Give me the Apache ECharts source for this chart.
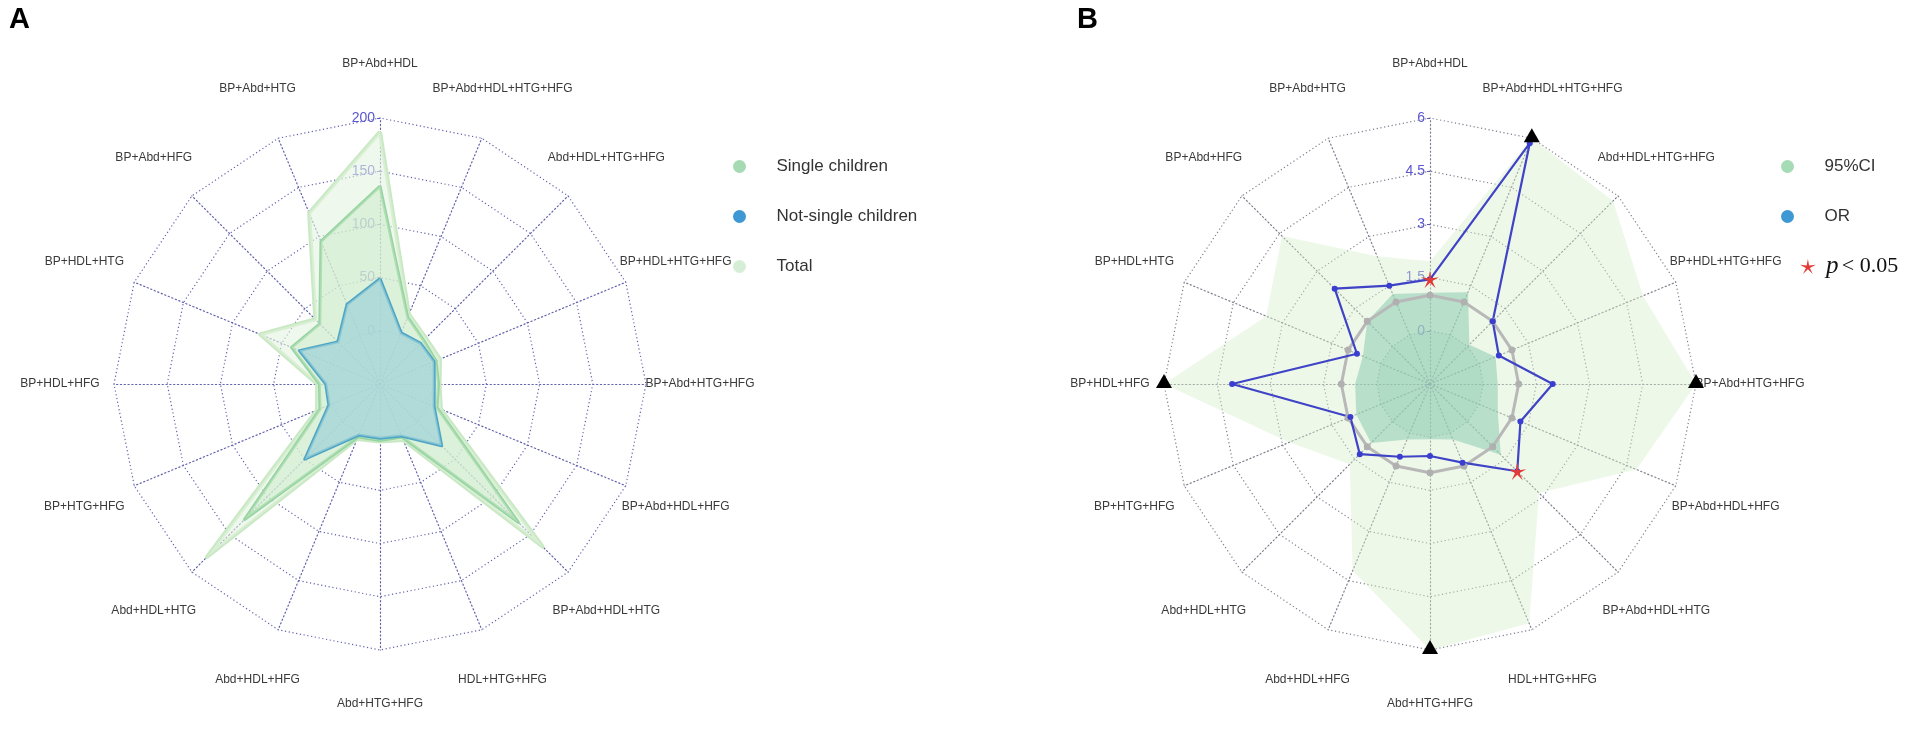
<!DOCTYPE html>
<html>
<head>
<meta charset="utf-8">
<script src="https://cdn.jsdelivr.net/npm/echarts@6/dist/echarts.min.js"></script>
<style>
html,body{margin:0;padding:0;background:#fff;}
#c{width:1928px;height:731px;}
</style>
</head>
<body>
<div id="c"></div>
<script>
// ---------- data ----------
const categories = ['BP+Abd+HDL','BP+Abd+HTG','BP+Abd+HFG','BP+HDL+HTG','BP+HDL+HFG','BP+HTG+HFG',
  'Abd+HDL+HTG','Abd+HDL+HFG','Abd+HTG+HFG','HDL+HTG+HFG','BP+Abd+HDL+HTG','BP+Abd+HDL+HFG',
  'BP+Abd+HTG+HFG','BP+HDL+HTG+HFG','Abd+HDL+HTG+HFG','BP+Abd+HDL+HTG+HFG'];
// Panel A: counts
const singleChildren    = [136, 95, 30, 40, 7, 11, 130, 4, 3, 4, 134, 8, 5, 7, 8, 18];
const notSingleChildren = [ 49, 31,  6, 32, 1,  2,  50, 2, 1, 3,  32, 5, 1, 5, 4,  2];
const totalChildren     = [187,124, 36, 72, 9, 14, 180, 6, 4, 7, 166,12, 6,11,11, 21];
const rangeA = [-50, 200];
// Panel B: odds ratios
const orValues  = [1.45, 1.5, 2.3, 0.73, 4.08, 0.93, 1.3, 0.72, 0.53, 0.9, 1.98, 1.26, 1.96, 0.6, 1.0, 5.85];
const ciLower   = [1.07, 1.25, 1.0, 0.55, 0.61, 0.75, 0.85, 0.19, 0.06, 0.19, 1.32, 0.57, 0.41, 0.5, 0.07, 1.3];
const ciUpper   = [1.96, 2.4, 4.4, 3.5, 6, 2.8, 1.7, 4.2, 6, 5.8, 2.85, 4.8, 6, 5.0, 5.8, 6];
const orReference = [1,1,1,1,1,1,1,1,1,1,1,1,1,1,1,1];
const rangeB = [-1.5, 6];
const significantIdx = [0, 10];      // p < 0.05
const truncatedIdx = [4, 8, 12, 15]; // upper CI beyond axis max

// ---------- styles ----------
const gridA = '#6262ad';
const gridB = '#7f7f8f';
const tickColor = '#5a56cf';
const starPath = 'path://M0,-1L0.147,-0.202L0.951,-0.309L0.238,0.077L0.588,0.809L0,0.25L-0.588,0.809L-0.238,0.077L-0.951,-0.309L-0.147,-0.202Z';
const labelFmt = v => (v < 0 ? '' : String(v));

function makeIndicators(range) {
  return categories.map((name, i) => {
    const o = { name: name, min: range[0], max: range[1] };
    if (i === 0) {
      o.axisLabel = { show: true };
      o.axisTick = { show: true };
    }
    return o;
  });
}
function radarBase(cx, grid, range, centerFill) {
  const dot = { color: grid, type: [1.2, 2.6], width: 1.2 };
  return {
    center: [cx, 384],
    radius: 266,
    startAngle: 90,
    splitNumber: 5,
    shape: 'polygon',
    indicator: makeIndicators(range),
    nameGap: 54,
    axisName: { color: '#3a3a3a', fontSize: 12, fontFamily: 'Liberation Sans', align: 'center', verticalAlign: 'middle' },
    axisLine: { lineStyle: dot },
    splitLine: { lineStyle: dot },
    splitArea: { show: true, areaStyle: { color: [centerFill, 'rgba(0,0,0,0)', 'rgba(0,0,0,0)', 'rgba(0,0,0,0)', 'rgba(0,0,0,0)'] } },
    axisTick: { show: false, length: 3, lineStyle: { color: tickColor, width: 1 } },
    axisLabel: { show: false, color: tickColor, fontSize: 14, fontFamily: 'Liberation Sans', formatter: labelFmt, margin: 5 }
  };
}

const chart = echarts.init(document.getElementById('c'));
const legendText = { fontSize: 17, color: '#333', fontFamily: 'Liberation Sans' };

chart.setOption({
  animation: false,
  backgroundColor: '#fff',
  title: [
    { text: 'A', left: 9, top: 5, padding: 0, textStyle: { fontSize: 29, fontWeight: 'bold', color: '#000', fontFamily: 'Liberation Sans' } },
    { text: 'B', left: 1077, top: 5, padding: 0, textStyle: { fontSize: 29, fontWeight: 'bold', color: '#000', fontFamily: 'Liberation Sans' } }
  ],
  legend: [
    { orient: 'vertical', left: 733, top: 158, itemWidth: 64, itemHeight: 13, itemGap: 33, icon: 'circle', selectedMode: false, padding: 0,
      textStyle: legendText,
      data: [
        { name: 'Single children', itemStyle: { color: '#a5dab4' } },
        { name: 'Not-single children', itemStyle: { color: '#3d98d3' } },
        { name: 'Total', itemStyle: { color: '#d6eed6' } }
      ] },
    { orient: 'vertical', left: 1781, top: 158, itemWidth: 64, itemHeight: 13, itemGap: 33, icon: 'circle', selectedMode: false, padding: 0,
      textStyle: legendText,
      data: [
        { name: '95%CI', itemStyle: { color: '#a5dbb5' } },
        { name: 'OR', itemStyle: { color: '#3d98d3' } }
      ] },
    { orient: 'vertical', left: 1800, top: 254, itemWidth: 26, itemHeight: 15, icon: starPath, selectedMode: false, padding: 0,
      data: [{ name: 'p < 0.05', itemStyle: { color: '#e53935', opacity: 1 } }],
      formatter: () => '{i|p} {n|< 0.05}',
      textStyle: { color: '#111', rich: {
        i: { fontFamily: 'Liberation Serif', fontStyle: 'italic', fontSize: 25, color: '#111' },
        n: { fontFamily: 'Liberation Serif', fontSize: 22, color: '#111' }
      } } }
  ],
  radar: [ radarBase(380, gridA, rangeA, 'rgba(0,0,0,0)'), radarBase(1430, gridB, rangeB, 'rgba(110,185,165,0.22)') ],
  polar: [{ center: [1430, 384], radius: 266 }],
  angleAxis: [{ polarIndex: 0, type: 'value', min: 0, max: categories.length, startAngle: 90, clockwise: false, show: false,
    axisLine: { show: false }, splitLine: { show: false }, axisLabel: { show: false }, axisTick: { show: false } }],
  radiusAxis: [{ polarIndex: 0, type: 'value', min: rangeB[0], max: rangeB[1], show: false,
    axisLine: { show: false }, splitLine: { show: false }, axisLabel: { show: false }, axisTick: { show: false } }],
  series: [
    { type: 'radar', radarIndex: 0, symbol: 'none', silent: true,
      data: [
        { name: 'Total', value: totalChildren, itemStyle: { color: '#d6eed6' },
          lineStyle: { color: '#c9e9c4', width: 4 }, areaStyle: { color: '#e4f4df', opacity: 0.6 } },
        { name: 'Single children', value: singleChildren, itemStyle: { color: '#a5dab4' },
          lineStyle: { color: '#97d4a3', width: 3 }, areaStyle: { color: '#c9e9c6', opacity: 0.5 } },
        { name: 'Not-single children', value: notSingleChildren, itemStyle: { color: '#3d98d3' },
          lineStyle: { color: '#4ea5c4', width: 3 }, areaStyle: { color: '#9fd3d8', opacity: 0.72 } }
      ] },
    { type: 'radar', radarIndex: 1, silent: true,
      data: [
        { name: '95%CI', value: ciUpper, symbol: 'none', itemStyle: { color: '#a5dbb5' },
          lineStyle: { opacity: 0, width: 0 }, areaStyle: { color: '#d6eecb', opacity: 0.42 } },
        { name: '95%CI', value: ciLower, symbol: 'none', itemStyle: { color: '#a5dbb5' },
          lineStyle: { opacity: 0, width: 0 }, areaStyle: { color: '#8ccbb0', opacity: 0.55 } },
        { name: 'OR = 1', value: orReference, symbol: 'circle', symbolSize: 7, itemStyle: { color: '#b0b0b0' },
          lineStyle: { color: '#b8b8b8', width: 3 } },
        { name: 'OR', value: orValues, symbol: 'circle', symbolSize: 6, itemStyle: { color: '#3a3ed0' },
          lineStyle: { color: '#3f43c6', width: 2.2 } }
      ] },
    { type: 'scatter', name: 'p < 0.05', coordinateSystem: 'polar', polarIndex: 0, clip: false, z: 5, silent: true,
      symbol: starPath, symbolSize: 18, itemStyle: { color: '#e53935', opacity: 1 },
      data: significantIdx.map(i => [orValues[i], i]) },
    { type: 'scatter', name: 'truncated', coordinateSystem: 'polar', polarIndex: 0, clip: false, z: 5, silent: true,
      symbol: 'triangle', symbolSize: [16, 14], symbolOffset: [0, -3], itemStyle: { color: '#000', opacity: 1 },
      data: truncatedIdx.map(i => [ciUpper[i], i]) }
  ]
});
</script>
</body>
</html>
